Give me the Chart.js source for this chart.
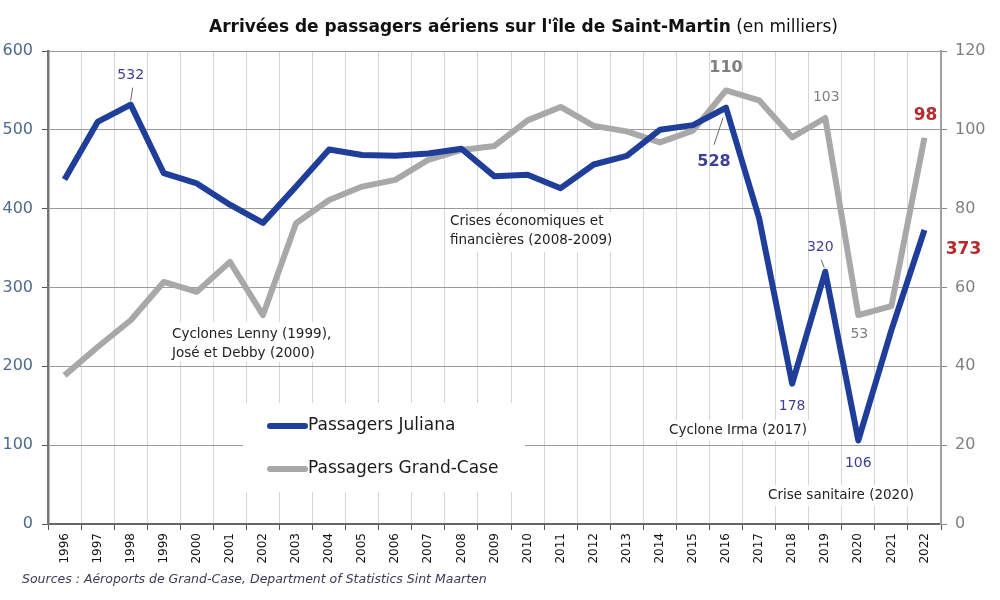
<!DOCTYPE html>
<html>
<head>
<meta charset="utf-8">
<script src="https://cdn.jsdelivr.net/npm/chart.js@4.4.1/dist/chart.umd.min.js"></script>
<style>
  html, body { margin: 0; padding: 0; background: #fff; }
  #wrap { width: 1000px; height: 600px; }
</style>
</head>
<body>
<div id="wrap"><canvas id="airChart" width="1000" height="600"></canvas></div>
<script>
// years on the x axis
var years = ['1996', '1997', '1998', '1999', '2000', '2001', '2002', '2003', '2004', '2005',
    '2006', '2007', '2008', '2009', '2010', '2011', '2012', '2013', '2014', '2015',
    '2016', '2017', '2018', '2019', '2020', '2021', '2022'];

// Juliana (left axis, thousands)
var juliana = [437, 510, 532, 445, 432, 405, 382, 428, 475, 468,
    467, 470, 476, 441, 443, 426, 456, 467, 500, 506,
    528, 388, 178, 320, 106, 246, 373];

// Grand-Case (right axis, thousands)
var grandCase = [37.7, 44.9, 51.7, 61.4, 58.9, 66.5, 53, 76.3, 82.2, 85.6,
    87.3, 92.4, 94.9, 95.9, 102.4, 105.8, 101, 99.6, 96.8, 99.8,
    110, 107.5, 98.1, 103, 53, 55.3, 98];

var leftTicks = [0, 100, 200, 300, 400, 500, 600];
var rightTicks = [0, 20, 40, 60, 80, 100, 120];

var FONT = '"DejaVu Sans", Verdana, sans-serif';
var BLUE = '#1f3e9a';
var GREY = '#a8a8a8';
var LABEL_BLUE = '#403f96';
var RED = '#b8292b';

// value labels: dataset, year index, offsets from the point
var valueLabels = [
    { ds: 0, i: 2, text: '532', dx: 0, dy: -29, size: 14, bold: false, color: LABEL_BLUE, leader: [2, -17, 0, -4] },
    { ds: 1, i: 20, text: '110', dx: 0, dy: -23, size: 16, bold: true, color: '#7f7f7f' },
    { ds: 0, i: 20, text: '528', dx: -12, dy: 54, size: 16, bold: true, color: LABEL_BLUE, leader: [-3, 10, -12, 37] },
    { ds: 1, i: 23, text: '103', dx: 1, dy: -21, size: 14, bold: false, color: '#7f7f7f' },
    { ds: 1, i: 26, text: '98', dx: 1, dy: -22, size: 17, bold: true, color: RED },
    { ds: 0, i: 26, text: '373', dx: 39, dy: 20, size: 17, bold: true, color: RED },
    { ds: 0, i: 23, text: '320', dx: -5, dy: -24, size: 14, bold: false, color: LABEL_BLUE, leader: [-4, -12, -1, -4] },
    { ds: 0, i: 22, text: '178', dx: 0, dy: 23, size: 14, bold: false, color: LABEL_BLUE },
    { ds: 1, i: 24, text: '53', dx: 1, dy: 19, size: 14, bold: false, color: '#7f7f7f' },
    { ds: 0, i: 24, text: '106', dx: 0, dy: 23, size: 14, bold: false, color: LABEL_BLUE }
];

// event notes (text lines, left x, first line centre y)
var notes = [
    { lines: ['Cyclones Lenny (1999),', 'José et Debby (2000)'], x: 172, y: 334, box: [168, 322, 172, 40] },
    { lines: ['Crises économiques et', 'financières (2008-2009)'], x: 450, y: 221, box: [446, 212, 174, 40] },
    { lines: ['Cyclone Irma (2017)'], x: 669, y: 430, box: [665, 420, 151, 21] },
    { lines: ['Crise sanitaire (2020)'], x: 768, y: 495, box: [764, 485, 156, 21] }
];

var overlay = {
    id: 'overlay',
    beforeDatasetsDraw: function (chart) {
        var c = chart.ctx;
        c.save();
        c.fillStyle = '#fff';
        notes.forEach(function (n) { c.fillRect(n.box[0], n.box[1], n.box[2], n.box[3]); });
        c.fillRect(243, 403, 282, 89); // legend box
        c.restore();
    },
    afterDatasetsDraw: function (chart) {
        var c = chart.ctx;
        c.save();
        c.textBaseline = 'middle';

        valueLabels.forEach(function (l) {
            var pt = chart.getDatasetMeta(l.ds).data[l.i];
            if (l.leader) {
                c.strokeStyle = '#666';
                c.lineWidth = 1;
                c.beginPath();
                c.moveTo(pt.x + l.leader[0], pt.y + l.leader[1]);
                c.lineTo(pt.x + l.leader[2], pt.y + l.leader[3]);
                c.stroke();
            }
            c.font = (l.bold ? 'bold ' : '') + l.size + 'px ' + FONT;
            c.fillStyle = l.color;
            c.textAlign = 'center';
            c.fillText(l.text, pt.x + l.dx, pt.y + l.dy);
        });

        c.font = '13.5px ' + FONT;
        c.fillStyle = '#222';
        c.textAlign = 'left';
        notes.forEach(function (n) {
            n.lines.forEach(function (t, k) { c.fillText(t, n.x, n.y + k * 19); });
        });

        // legend
        var items = [['Passagers Juliana', BLUE, 426], ['Passagers Grand-Case', GREY, 469]];
        c.lineCap = 'round';
        c.lineWidth = 6;
        items.forEach(function (it) {
            c.strokeStyle = it[1];
            c.beginPath();
            c.moveTo(270, it[2]);
            c.lineTo(305, it[2]);
            c.stroke();
            c.font = '17px ' + FONT;
            c.fillStyle = '#1a1a1a';
            c.fillText(it[0], 308, it[2]);
        });
        c.restore();
    },
    afterDraw: function (chart) {
        var c = chart.ctx;
        c.save();
        c.textBaseline = 'alphabetic';
        c.textAlign = 'left';
        c.fillStyle = '#111';
        c.font = 'bold 17px ' + FONT;
        var t1 = "Arrivées de passagers aériens sur l'île de Saint-Martin";
        c.fillText(t1, 209, 32);
        var w = c.measureText(t1).width;
        c.font = '17px ' + FONT;
        c.fillText(' (en milliers)', 209 + w, 32);

        c.font = 'italic 12.5px ' + FONT;
        c.fillStyle = '#3a3a58';
        c.fillText('Sources : Aéroports de Grand-Case, Department of Statistics Sint Maarten', 22, 583);
        c.restore();
    }
};

var ctx = document.getElementById('airChart').getContext('2d');
var airChart = new Chart(ctx, {
    type: 'line',
    data: {
        labels: years,
        datasets: [{
            label: 'Passagers Juliana',
            data: juliana,
            yAxisID: 'y',
            borderColor: BLUE,
            borderWidth: 6,
            pointRadius: 0,
            tension: 0,
            borderJoinStyle: 'round'
        }, {
            label: 'Passagers Grand-Case',
            data: grandCase,
            yAxisID: 'y1',
            borderColor: GREY,
            borderWidth: 6,
            pointRadius: 0,
            tension: 0,
            borderJoinStyle: 'round'
        }]
    },
    options: {
        responsive: false,
        animation: false,
        layout: { padding: { top: 51, left: 0, right: 0, bottom: 0 } },
        plugins: {
            legend: { display: false },
            tooltip: { enabled: false }
        },
        scales: {
            x: {
                offset: true,
                afterFit: function (s) { s.height = 76; },
                grid: { offset: true, color: '#d6d6d6', lineWidth: 1, tickColor: '#555', tickLength: 6 },
                border: { color: '#666', width: 2 },
                ticks: { minRotation: 90, maxRotation: 90, padding: 3, color: '#111', font: { family: FONT, size: 12 } }
            },
            y: {
                position: 'left',
                min: 0, max: 600,
                afterFit: function (s) { s.width = 48; },
                afterBuildTicks: function (s) { s.ticks = leftTicks.map(function (v) { return { value: v }; }); },
                grid: { color: '#9a9a9a', lineWidth: 1, tickColor: '#555', tickLength: 6 },
                border: { color: '#777', width: 2.5 },
                ticks: { padding: 9, color: '#4d6b8e', font: { family: FONT, size: 16 } }
            },
            y1: {
                position: 'right',
                min: 0, max: 120,
                afterFit: function (s) { s.width = 59; },
                afterBuildTicks: function (s) { s.ticks = rightTicks.map(function (v) { return { value: v }; }); },
                grid: { drawOnChartArea: false, tickColor: '#888', tickLength: 6 },
                border: { color: '#a0a0a0', width: 2 },
                ticks: { padding: 8, color: '#808080', font: { family: FONT, size: 16 } }
            }
        }
    },
    plugins: [overlay]
});
</script>
</body>
</html>
